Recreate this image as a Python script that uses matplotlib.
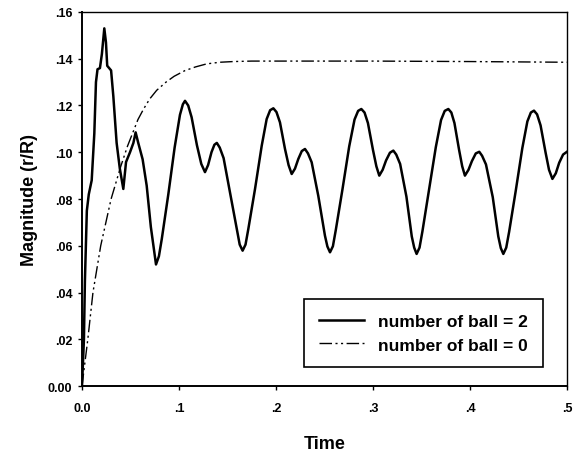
import numpy as np
import matplotlib
matplotlib.use('Agg')
import matplotlib.pyplot as plt

plt.rcParams['font.family'] = ['Liberation Sans', 'DejaVu Sans']
plt.rcParams['font.weight'] = 'bold'

# solid curve, number of ball = 2
ball2_time = [
    0.0000, 0.0020, 0.0030, 0.0050, 0.0070, 0.0100, 0.0127, 0.0144, 0.0160, 0.0185,
    0.0205, 0.0230, 0.0247, 0.0260, 0.0300, 0.0323, 0.0357, 0.0390, 0.0426, 0.0454,
    0.0495, 0.0530, 0.0553, 0.0580, 0.0625, 0.0667, 0.0710,
    0.0763, 0.0793, 0.0823, 0.0890, 0.0955, 0.1010, 0.1040, 0.1062, 0.1095, 0.1130,
    0.1185, 0.1230, 0.1268, 0.1300, 0.1335, 0.1365, 0.1390, 0.1420, 0.1460, 0.1525,
    0.1595, 0.1626,
    0.1656, 0.1686, 0.1715, 0.1784, 0.1853, 0.1904, 0.1940, 0.1973, 0.2005, 0.2041,
    0.2093, 0.2130, 0.2162, 0.2196, 0.2230, 0.2266, 0.2299, 0.2330, 0.2368, 0.2436,
    0.2505, 0.2530,
    0.2557, 0.2587, 0.2617, 0.2685, 0.2755, 0.2810, 0.2847, 0.2880, 0.2913, 0.2948,
    0.3000, 0.3035, 0.3065, 0.3100, 0.3135, 0.3175, 0.3210, 0.3240, 0.3280, 0.3345,
    0.3400, 0.3425,
    0.3450, 0.3480, 0.3510, 0.3578, 0.3648, 0.3702, 0.3740, 0.3777, 0.3808, 0.3840,
    0.3888, 0.3920, 0.3948, 0.3985, 0.4020, 0.4060, 0.4096, 0.4125, 0.4165, 0.4235,
    0.4292, 0.4318,
    0.4344, 0.4374, 0.4404, 0.4472, 0.4540, 0.4592, 0.4628, 0.4660, 0.4692, 0.4728,
    0.4780, 0.4815, 0.4850, 0.4885, 0.4920, 0.4960, 0.5000,
]
ball2_mag = [
    0.0000, 0.0200, 0.0450, 0.0750, 0.0820, 0.0880, 0.1080, 0.1300, 0.1355, 0.1360,
    0.1420, 0.1530, 0.1470, 0.1370, 0.1350, 0.1240, 0.1040, 0.0930, 0.0843, 0.0958,
    0.1000, 0.1040, 0.1085, 0.1040, 0.0970, 0.0857, 0.0680,
    0.0520, 0.0555, 0.0630, 0.0820, 0.1020, 0.1160, 0.1205, 0.1220, 0.1200, 0.1150,
    0.1030, 0.0950, 0.0915, 0.0945, 0.1000, 0.1032, 0.1040, 0.1020, 0.0975, 0.0830,
    0.0672, 0.0605,
    0.0579, 0.0605, 0.0672, 0.0843, 0.1028, 0.1142, 0.1180, 0.1188, 0.1172, 0.1128,
    0.1014, 0.0945, 0.0907, 0.0930, 0.0971, 0.1005, 0.1014, 0.0995, 0.0957, 0.0814,
    0.0643, 0.0597,
    0.0572, 0.0598, 0.0668, 0.0840, 0.1025, 0.1140, 0.1177, 0.1185, 0.1170, 0.1125,
    0.1010, 0.0940, 0.0900, 0.0925, 0.0965, 0.0998, 0.1007, 0.0990, 0.0950, 0.0810,
    0.0640, 0.0592,
    0.0565, 0.0592, 0.0662, 0.0838, 0.1022, 0.1138, 0.1177, 0.1185, 0.1170, 0.1125,
    0.1010, 0.0940, 0.0900, 0.0925, 0.0962, 0.0995, 0.1002, 0.0985, 0.0948, 0.0808,
    0.0640, 0.0590,
    0.0565, 0.0592, 0.0660, 0.0835, 0.1018, 0.1132, 0.1170, 0.1178, 0.1162, 0.1115,
    0.0998, 0.0925, 0.0886, 0.0910, 0.0955, 0.0990, 0.1002,
]

# dash-dot curve, number of ball = 0
ball0_time = [0.0, 0.003, 0.006, 0.0113, 0.0193, 0.030, 0.040, 0.047, 0.0525, 0.0577,
              0.0635, 0.0698, 0.077, 0.0866, 0.095, 0.106, 0.117, 0.1285, 0.142, 0.156,
              0.175, 0.20, 0.30, 0.40, 0.50]
ball0_mag = [0.0, 0.010, 0.020, 0.040, 0.060, 0.080, 0.094, 0.1027, 0.1085, 0.1140,
             0.1185, 0.1228, 0.1265, 0.1300, 0.1325, 0.1349, 0.1365, 0.1378, 0.1385, 0.1388,
             0.1390, 0.1390, 0.1390, 0.1388, 0.1385]

xticks = [0.0, 0.1, 0.2, 0.3, 0.4, 0.5]
xticklabels = ['0.0', '.1', '.2', '.3', '.4', '.5']
yticks = [0.0, 0.02, 0.04, 0.06, 0.08, 0.10, 0.12, 0.14, 0.16]
yticklabels = ['0.00', '.02', '.04', '.06', '.08', '.10', '.12', '.14', '.16']

figure = plt.figure(figsize = (5.75, 4.56), dpi = 100)
axis = figure.add_axes([0.1426, 0.1513, 0.8434, 0.8202])

axis.plot(ball2_time, ball2_mag, color = 'black', linewidth = 1.8,
          label = 'number of ball = 2')
axis.plot(ball0_time, ball0_mag, color = 'black', linewidth = 1.0,
          linestyle = (0, (9, 2.5, 1.5, 2.5, 1.5, 2.5)), label = 'number of ball = 0')

axis.set_xlim(0, 0.5)
axis.set_ylim(0, 0.16)
axis.set_xticks(xticks)
axis.set_xticklabels(xticklabels)
axis.set_yticks(yticks)
axis.set_yticklabels(yticklabels)
axis.tick_params(direction = 'out', length = 3, width = 1, labelsize = 9)
axis.tick_params(axis = 'x', pad = 8.5)
axis.tick_params(axis = 'y', pad = 4)
for spine in axis.spines.values():
    spine.set_linewidth(1.0)
axis.spines['left'].set_linewidth(1.4)
axis.spines['bottom'].set_linewidth(1.4)

axis.set_xlabel('Time', fontsize = 13, fontweight = 'bold', labelpad = 15)
axis.set_ylabel('Magnitude (r/R)', fontsize = 13, fontweight = 'bold', labelpad = 7)

legend = axis.legend(loc = 'lower right', bbox_to_anchor = (0.95, 0.05), fontsize = 12.5,
                     frameon = True, fancybox = False, edgecolor = 'black', framealpha = 1,
                     handlelength = 2.6, handletextpad = 0.8, borderpad = 0.85,
                     labelspacing = 0.5, borderaxespad = 0)
legend.get_frame().set_linewidth(1.2)
for text in legend.get_texts():
    text.set_fontweight('bold')

figure.savefig('out.png', dpi = 100)
